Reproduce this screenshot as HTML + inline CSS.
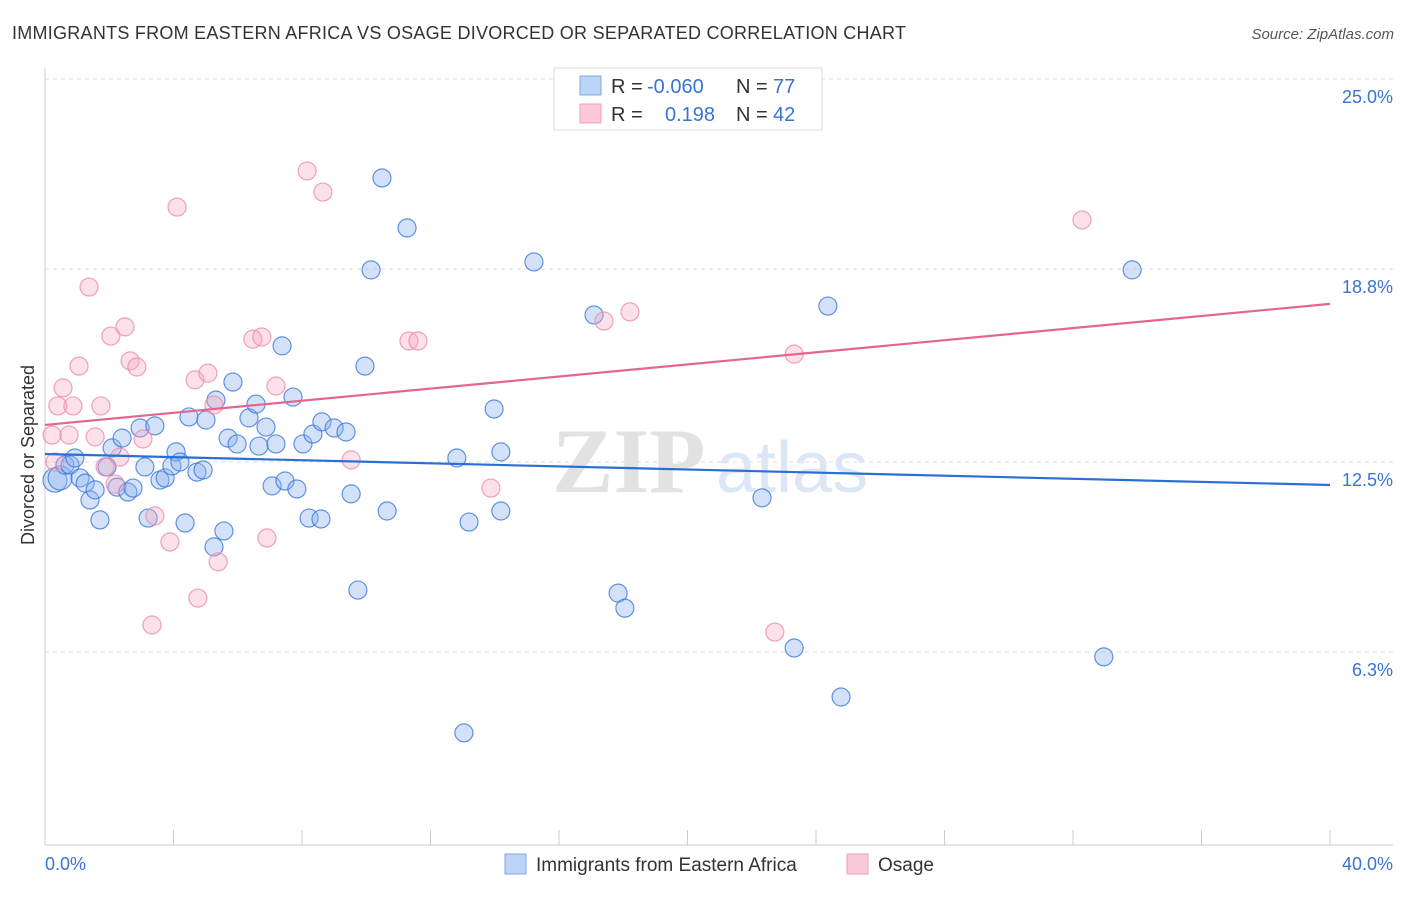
<!DOCTYPE html>
<html><head><meta charset="utf-8"><style>
body{margin:0;background:#fff;font-family:"Liberation Sans",sans-serif}
</style></head><body>
<svg width="1406" height="892" viewBox="0 0 1406 892" xmlns="http://www.w3.org/2000/svg" font-family="Liberation Sans, sans-serif">
<text x="12" y="39" font-size="18" fill="#333" textLength="894">IMMIGRANTS FROM EASTERN AFRICA VS OSAGE DIVORCED OR SEPARATED CORRELATION CHART</text>
<text x="1394" y="39" font-size="15" fill="#555" font-style="italic" text-anchor="end">Source: ZipAtlas.com</text>
<g id="grid"></g>
<g><text x="552" y="492" font-size="92" fill="#e2e2e2" font-family="Liberation Serif, serif" font-weight="bold">ZIP</text><text x="716" y="492" font-size="72" fill="#dbe6f6">atlas</text></g>
<g id="marks"></g>
<text transform="translate(34,455) rotate(-90)" font-size="18" fill="#333" text-anchor="middle">Divorced or Separated</text>
<text x="45" y="870" font-size="18" fill="#3a74d0">0.0%</text>
<text x="1393" y="870" font-size="18" fill="#3a74d0" text-anchor="end">40.0%</text>
<g>
<rect x="554" y="68" width="268" height="62" fill="#fff" stroke="#ddd"/>
<rect x="580" y="76" width="21" height="19" fill="#bcd4f6" stroke="#7fa8e8"/>
<rect x="580" y="104" width="21" height="19" fill="#fcc9d8" stroke="#f0a0b8"/>
<text y="93" font-size="20" fill="#333"><tspan x="611">R =</tspan><tspan x="647" fill="#3a74d0">-0.060</tspan><tspan x="736">N =</tspan><tspan x="773" fill="#3a74d0">77</tspan></text>
<text y="121" font-size="20" fill="#333"><tspan x="611">R =</tspan><tspan x="665" fill="#3a74d0">0.198</tspan><tspan x="736">N =</tspan><tspan x="773" fill="#3a74d0">42</tspan></text>
</g>
<g>
<rect x="505" y="854" width="21" height="20" fill="#bcd4f6" stroke="#7fa8e8"/>
<text x="536" y="871" font-size="19" fill="#333">Immigrants from Eastern Africa</text>
<rect x="847" y="854" width="21" height="20" fill="#fcc9d8" stroke="#f0a0b8"/>
<text x="878" y="871" font-size="19" fill="#333">Osage</text>
</g>
</svg>
<script>
const yTicks=[25,18.8,12.5,6.3];
const yTickLabels=["25.0%","18.8%","12.5%","6.3%"];
const xTicks=[0,4,8,12,16,20,24,28,32,36,40];
const blueX=[0.31,0.47,0.62,0.78,0.93,1.09,1.25,1.40,1.56,1.71,1.93,2.09,2.24,2.40,2.58,2.74,2.96,3.11,3.21,3.42,3.58,3.74,3.95,4.08,4.20,4.36,4.48,4.73,4.92,5.01,5.26,5.32,5.57,5.70,5.85,5.98,6.35,6.57,6.66,6.88,7.07,7.19,7.38,7.47,7.72,7.84,8.03,8.22,8.34,8.59,8.62,9.00,9.37,9.53,9.74,9.96,10.15,10.49,10.65,11.27,12.82,13.04,13.20,13.98,14.19,14.19,15.22,17.09,17.84,18.05,22.32,23.32,24.37,24.78,32.96,33.84];
const blueY=[11.91,11.98,12.40,12.40,12.63,11.98,11.81,11.26,11.59,10.61,12.34,12.96,11.68,13.28,11.52,11.65,13.61,12.34,10.67,13.68,11.91,11.98,12.37,12.83,12.50,10.51,13.97,12.17,12.24,13.87,9.73,14.52,10.25,13.28,15.11,13.09,13.94,14.39,13.02,13.64,11.72,13.09,16.29,11.88,14.62,11.62,13.09,10.67,13.41,10.64,13.81,13.61,13.48,11.46,8.32,15.63,18.77,21.77,10.90,20.14,12.63,3.66,10.54,14.23,12.83,10.90,19.03,17.30,8.22,7.73,11.33,6.43,17.59,4.83,6.14,18.77];
const pinkX=[0.22,0.31,0.40,0.56,0.75,0.87,1.06,1.37,1.56,1.74,1.87,2.05,2.18,2.33,2.49,2.65,2.86,3.05,3.42,3.89,4.11,4.67,4.76,5.07,5.26,5.39,6.47,6.75,6.91,7.19,8.16,8.65,9.53,11.33,11.61,13.88,17.40,18.21,22.72,23.32,32.28,3.33];
const pinkY=[13.38,12.50,14.33,14.92,13.38,14.33,15.63,18.21,13.32,14.33,12.34,16.61,11.78,12.66,16.91,15.80,15.60,13.25,10.74,9.89,20.82,15.18,8.06,15.40,14.36,9.24,16.51,16.58,10.02,14.98,22.00,21.31,12.57,16.45,16.45,11.65,17.10,17.40,6.95,16.02,20.40,7.18];
const blueTrend=[12.76,11.75];
const pinkTrend=[13.71,17.66];
const trendX=[0,40];
const NS="http://www.w3.org/2000/svg";
const xs=v=>45+v*32.125, ys=v=>845-v*30.64;
function mk(t,a,p){const e=document.createElementNS(NS,t);for(const k in a)e.setAttribute(k,a[k]);p.appendChild(e);return e;}
const g=document.getElementById('grid'), m=document.getElementById('marks');
yTicks.forEach((t,i)=>{
 const l=mk('line',{x1:45,x2:1393,y1:ys(t),y2:ys(t),stroke:'#ddd','stroke-dasharray':'4,4'},g);
 
 
 const tx=mk('text',{x:1393,y:ys(t)+24,'font-size':18,fill:'#3a74d0','text-anchor':'end'},g);
 tx.textContent=yTickLabels[i];
 
 
});
mk('line',{x1:45,x2:45,y1:68,y2:845,stroke:'#ccc'},g);
mk('line',{x1:45,x2:1393,y1:845,y2:845,stroke:'#ccc'},g);
xTicks.forEach(t=>{const l=mk('line',{x1:xs(t),x2:xs(t),y1:830,y2:845,stroke:'#ccc'},g);
 
 });
blueX.forEach((x,i)=>{const c=mk('circle',{cx:xs(x),cy:ys(blueY[i]),r:i<2?12:9,fill:'rgba(140,180,240,0.38)',stroke:'rgba(60,120,220,0.8)','stroke-width':1.2},m);
 
 });
pinkX.forEach((x,i)=>{const c=mk('circle',{cx:xs(x),cy:ys(pinkY[i]),r:9,fill:'rgba(245,165,195,0.35)',stroke:'rgba(235,140,170,0.8)','stroke-width':1.2},m);
 
 });
const bl=mk('line',{x1:xs(trendX[0]),x2:xs(trendX[1]),y1:ys(blueTrend[0]),y2:ys(blueTrend[1]),stroke:'#2a6fd6','stroke-width':2.2},m);


const pl=mk('line',{x1:xs(trendX[0]),x2:xs(trendX[1]),y1:ys(pinkTrend[0]),y2:ys(pinkTrend[1]),stroke:'#e4658f','stroke-width':2.2},m);


</script>
</body></html>
